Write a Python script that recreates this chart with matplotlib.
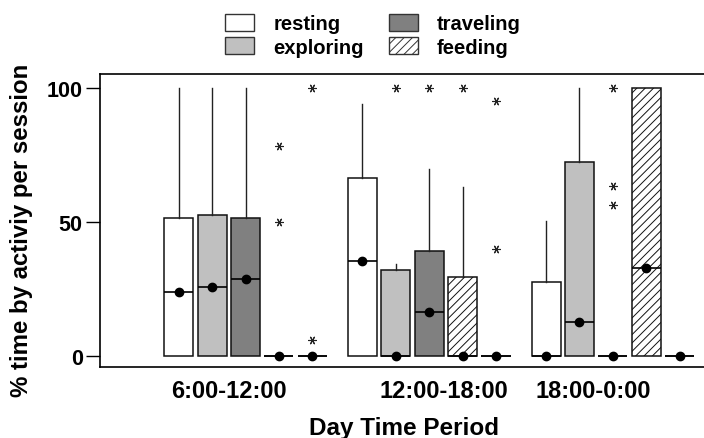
import matplotlib.pyplot as plt
from matplotlib.patches import Patch

plt.rcParams["font.family"] = ["Liberation Sans", "DejaVu Sans"]
plt.rcParams["hatch.color"] = "#555555"
plt.rcParams["hatch.linewidth"] = 0.7

# ---- data ----
periods = ["6:00-12:00", "12:00-18:00", "18:00-0:00"]
activities = ["resting", "exploring", "traveling", "feeding", "other"]
fills = ["white", "#c0c0c0", "#808080", "white", "white"]
hatches = ["", "", "", "////", ""]

# one row per period, one value per activity
q3 = [[51.4, 52.6, 51.4, 0, 0],
      [66.3, 32.2, 39.3, 29.5, 0],
      [27.5, 72.3, 0, 100, 0]]
medians = [[23.8, 25.7, 28.6, 0, 0],
           [35.4, 0, 16.3, 0, 0],
           [0, 12.6, 0, 32.7, 0]]
whisk_hi = [[100, 100, 100, 0, 0],
            [94, 34.3, 69.8, 62.9, 0],
            [50.2, 100, 0, 100, 0]]
outliers = [[[], [], [], [78.2, 50.1], [100, 6.1]],
            [[], [100], [100], [100], [95.3, 39.9]],
            [[], [], [100, 63.3, 56.3], [], []]]

label_offsets = [1.5, 2.45, 1.42]   # period labels are not centred on the groups

# ---- layout ----
group_step = 5.5
fig = plt.figure(figsize=(7.04, 4.39), dpi=100)
ax = fig.add_axes([100 / 704, 1 - 368 / 439, 1 - 100 / 704 + 0.01, (368 - 75) / 439])

for g in range(len(periods)):
    stats = []
    positions = []
    for i in range(len(activities)):
        stats.append({
            "med": medians[g][i], "mean": medians[g][i],
            "q1": 0, "q3": q3[g][i],
            "whislo": 0, "whishi": whisk_hi[g][i],
            "fliers": outliers[g][i],
        })
        positions.append(g * group_step + i)
    bp = ax.bxp(stats, positions=positions, widths=0.87, patch_artist=True,
                showcaps=False, showmeans=True, manage_ticks=False,
                boxprops=dict(edgecolor="#111111", linewidth=1.1),
                whiskerprops=dict(color="#222222", linewidth=1.0),
                medianprops=dict(color="black", linewidth=1.2),
                meanprops=dict(marker="o", markerfacecolor="black", markeredgecolor="black", markersize=6),
                flierprops=dict(marker=(6, 2, 90), markeredgecolor="#222222", markersize=6, markeredgewidth=0.8))
    for box, fc, h in zip(bp["boxes"], fills, hatches):
        box.set_facecolor(fc)
        box.set_hatch(h)

ax.set_xlim(-2.36, 15.94)
ax.set_ylim(-4.1, 105.2)
ax.set_yticks([0, 50, 100])
ax.set_xticks([g * group_step + label_offsets[g] for g in range(len(periods))])
ax.set_xticklabels(periods)
ax.tick_params(axis="x", length=0, pad=9, labelsize=17)
ax.tick_params(axis="y", length=10, width=1, pad=2.5, labelsize=15.5)
for t in ax.get_xticklabels() + ax.get_yticklabels():
    t.set_fontweight("bold")
ax.spines["right"].set_visible(False)
for s in ["left", "top", "bottom"]:
    ax.spines[s].set_linewidth(1.2)

ax.set_ylabel("% time by activiy per session", fontsize=17.3, fontweight="bold")
ax_w = ax.get_position().width * 704
ax.yaxis.set_label_coords((33 - 100) / ax_w, (368 - 230) / 293)
fig.text(404 / 704, 1 - 417 / 439, "Day Time Period", ha="center", va="top",
         fontsize=17.5, fontweight="bold")

# legend on top, no frame, 4 activities only
handles = [Patch(facecolor=fills[i], edgecolor="#333333", hatch=hatches[i], label=activities[i])
           for i in range(4)]
fig.legend(handles=handles, ncol=2, loc="upper left", bbox_to_anchor=(215 / 704, 1 - 5 / 439),
           frameon=False, borderpad=0, handlelength=1.44, handleheight=0.9,
           handletextpad=0.95, columnspacing=1.25, labelspacing=0.2,
           prop=dict(size=14.5, weight="bold"))

plt.savefig("out.png")
